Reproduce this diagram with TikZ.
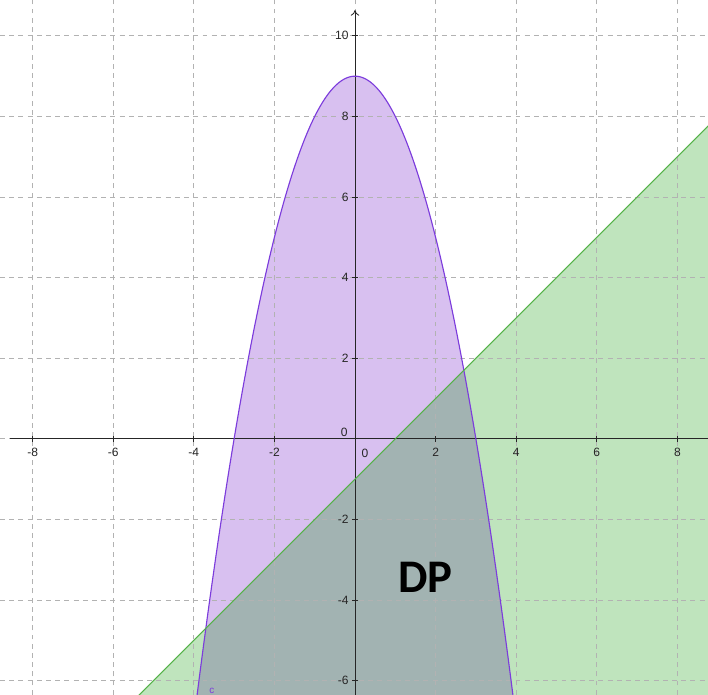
\documentclass[tikz,border=0pt]{standalone}
\usepackage{fontspec}
\setmainfont{Liberation Sans}
\newfontfamily\dpfont{Carlito}
\usetikzlibrary{arrows.meta}

\definecolor{purpleline}{RGB}{124,60,220}
\definecolor{purplefill}{RGB}{216,192,240}
\definecolor{greenline}{RGB}{84,178,72}
\definecolor{greenfill}{RGB}{191,228,189}
\definecolor{overlapfill}{RGB}{162,179,178}

\begin{document}
\begin{tikzpicture}[
    gridline/.style={gray!60, dash pattern=on 3.5pt off 3pt, line width=0.5pt},
    axis/.style={black!85, line width=0.6pt},
    ticklabel/.style={font=\fontsize{8.5}{10}\selectfont, text=black!85, inner sep=1pt},
    curve/.style={line width=0.8pt}
  ]
  \useasboundingbox (-8.81,-6.35) rectangle (8.76,10.89);
  \clip (-8.81,-6.35) rectangle (8.76,10.89);

  % shaded regions
  \fill[purplefill] plot[domain=-4.2:4.2, samples=120, smooth] (\x,{9-\x*\x}) -- cycle;
  \fill[greenfill] (-6,-7) -- (9.5,8.5) -- (9.5,-7) -- cycle;
  \begin{scope}
    \clip (-6,-7) -- (9.5,8.5) -- (9.5,-7) -- cycle;
    \fill[overlapfill] plot[domain=-4.2:4.2, samples=120, smooth] (\x,{9-\x*\x}) -- cycle;
  \end{scope}

  % grid
  \foreach \x in {-8,-6,...,8}
    \draw[gridline] (\x,-6.35) -- (\x,10.89);
  \foreach \y in {-6,-4,...,10}
    \draw[gridline] (-8.81,\y) -- (8.76,\y);

  % axes
  \coordinate (xstart) at (-8.55,0);
  \coordinate (xend) at (8.76,0);
  \coordinate (ystart) at (0,-6.35);
  \coordinate (yend) at (0,10.64);
  \draw[axis] (xstart) -- (xend);
  \draw[axis, -{To[length=4pt, width=6pt]}] (ystart) -- (yend);

  \foreach \x [count=\i] in {-8,-6,-4,-2,2,4,6,8} {
    \draw[axis] (\x,-0.08) -- (\x,0.08);
    \node[ticklabel] (xl\i) at (\x,-0.33) {\x};
  }
  \foreach \y [count=\i] in {-6,-4,-2,2,4,6,8,10} {
    \draw[axis] (-0.08,\y) -- (0.08,\y);
    \node[ticklabel, anchor=east] (yl\i) at (-0.12,\y) {\y};
  }
  \node[ticklabel] (xzero) at (0.25,-0.35) {0};
  \node[ticklabel] (yzero) at (-0.27,0.15) {0};

  % curves
  \draw[purpleline, curve] plot[domain=-4.2:4.2, samples=120, smooth] (\x,{9-\x*\x});
  \draw[greenline, curve] (-6,-7) -- (9.5,8.5);

  % labels
  \node[font=\dpfont\bfseries\fontsize{33}{38}\selectfont] (dp) at (1.75,-3.45) {DP};
  \node[text=purpleline, font=\fontsize{7}{8}\selectfont, inner sep=0pt] (clabel) at (-3.55,-6.26) {c};
\end{tikzpicture}
\end{document}
